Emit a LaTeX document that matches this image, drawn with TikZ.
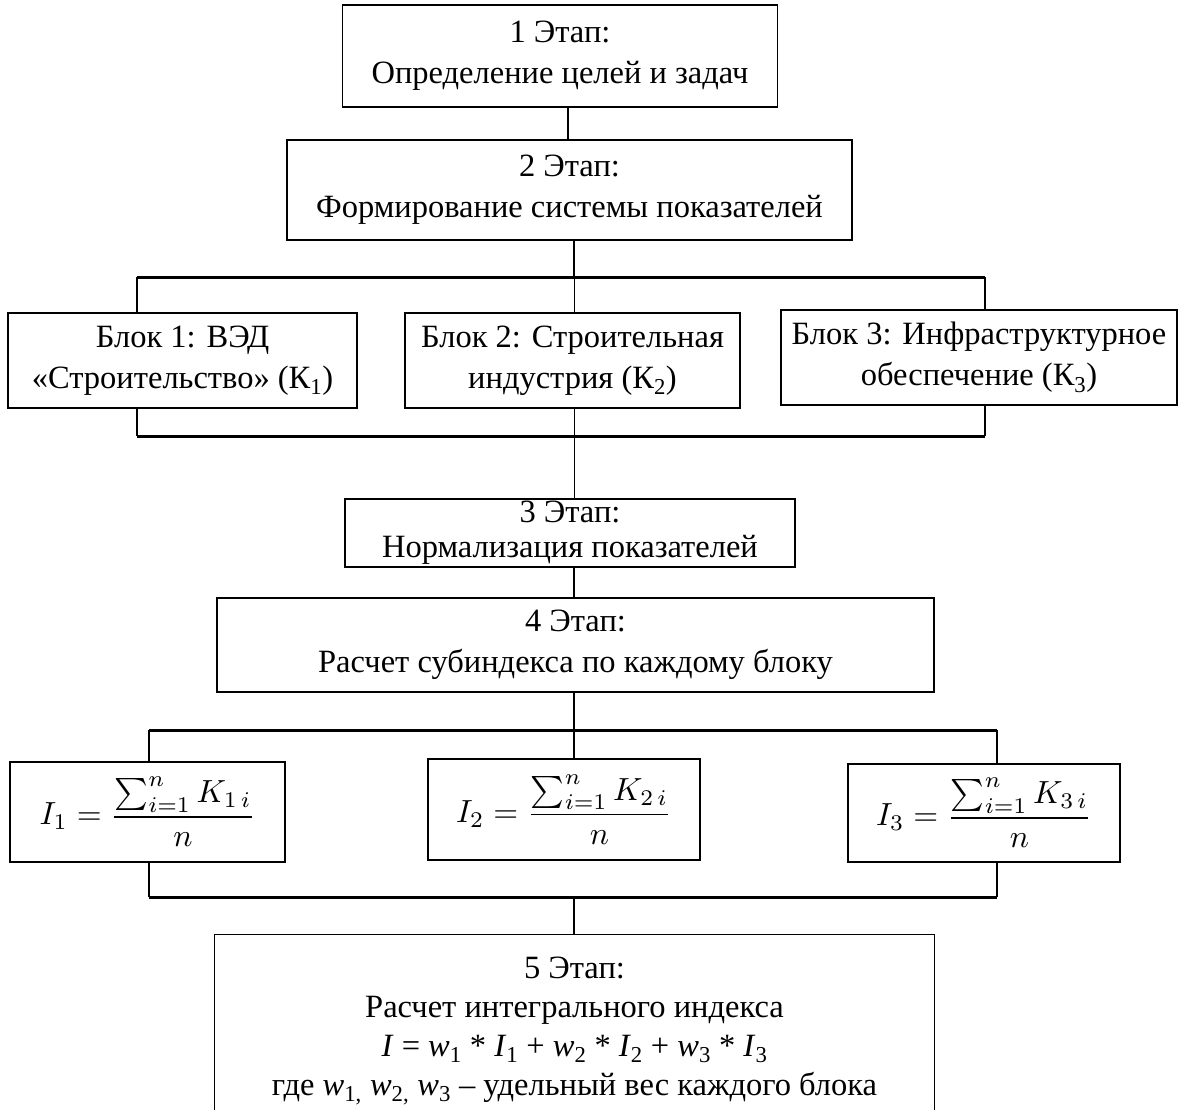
\documentclass[tikz,border=0pt]{standalone}
\usepackage{graphicx}
\usepackage{amsmath}
\usepackage{fontspec}
\setmainfont{Liberation Serif}
\newcommand{\bigformula}[1]{\scalebox{3.2}{\fontsize{10}{12}\selectfont$\displaystyle #1$}}
\begin{document}
\begin{tikzpicture}[x=1pt,y=-1pt,
  box/.style={draw,line width=1.3pt,align=center,inner sep=0pt,font=\fontsize{32.5}{41}\selectfont},
  fbox/.style={box},
  conn/.style={line width=2pt},
  thinconn/.style={line width=1pt},
  bus/.style={line width=3pt}]
\useasboundingbox (0,0) rectangle (1181,1109);
\node[box,minimum width=435,minimum height=102] (s1) at (560,56) {1 Этап:\\Определение целей и задач};
\node[box,minimum width=565,minimum height=100] (s2) at (569.5,190) {2 Этап:\\Формирование системы показателей};
\node[box,minimum width=349,minimum height=95] (b1) at (182.5,360.5) {Блок 1: ВЭД\\«Строительство» (К\textsubscript{1})};
\node[box,minimum width=335,minimum height=95] (b2) at (572.5,360.5) {Блок 2: Строительная\\индустрия (К\textsubscript{2})};
\node[box,minimum width=396,minimum height=95] (b3) at (979,357.5) {Блок 3: Инфраструктурное\\обеспечение (К\textsubscript{3})};
\node[box,font=\fontsize{32.5}{35}\selectfont,minimum width=450,minimum height=68] (s3) at (570,533) {3 Этап:\\Нормализация показателей};
\node[box,minimum width=717,minimum height=94] (s4) at (575.5,645) {4 Этап:\\Расчет субиндекса по каждому блоку};
\node[fbox,minimum width=275,minimum height=100] (f1) at (147.5,812) {\bigformula{I_1=\frac{\textstyle\sum_{i=1}^{n}K_{1\,i}}{n}}};
\node[fbox,minimum width=272,minimum height=101] (f2) at (564,809.5) {\bigformula{I_2=\frac{\textstyle\sum_{i=1}^{n}K_{2\,i}}{n}}};
\node[fbox,minimum width=272,minimum height=98] (f3) at (984,813) {\bigformula{I_3=\frac{\textstyle\sum_{i=1}^{n}K_{3\,i}}{n}}};
\node[box,font=\fontsize{32.5}{39}\selectfont,draw=none,minimum width=719,minimum height=192] (s5) at (574.5,1031) {5 Этап:\\Расчет интегрального индекса\\\textit{I} = \textit{w}\textsubscript{1} * \textit{I}\textsubscript{1} + \textit{w}\textsubscript{2} * \textit{I}\textsubscript{2} + \textit{w}\textsubscript{3} * \textit{I}\textsubscript{3}\\где \textit{w}\textsubscript{1,} \textit{w}\textsubscript{2,} \textit{w}\textsubscript{3} – удельный вес каждого блока};
\draw[line width=1.3pt] (s5.south west) -- (s5.north west) -- (s5.north east) -- (s5.south east);
% bus coordinates
\coordinate (a1) at (137,277); \coordinate (a2) at (574,277); \coordinate (a3) at (985,277);
\coordinate (c1) at (137,436); \coordinate (c2) at (574,436); \coordinate (c3) at (985,436);
\coordinate (d1) at (149,730); \coordinate (d2) at (574,730); \coordinate (d3) at (997,730);
\coordinate (e1) at (149,897); \coordinate (e2) at (574,897); \coordinate (e3) at (997,897);
\draw[conn] (s1.south -| 568,0) -- (s2.north -| 568,0);
\draw[conn] (s2.south -| a2) -- (a2);
\draw[bus] (a1) -- (a3);
\draw[conn] (a1) -- (a1 |- b1.north);
\draw[thinconn] (a2) -- (a2 |- b2.north);
\draw[conn] (a3) -- (a3 |- b3.north);
\draw[conn] (c1 |- b1.south) -- (c1);
\draw[conn] (c3 |- b3.south) -- (c3);
\draw[bus] (c1) -- (c3);
\draw[thinconn] (c2 |- b2.south) -- (c2 |- s3.north);
\draw[conn] (s3.south -| d2) -- (s4.north -| d2);
\draw[conn] (s4.south -| d2) -- (d2);
\draw[bus] (d1) -- (d3);
\draw[conn] (d1) -- (d1 |- f1.north);
\draw[conn] (d2) -- (d2 |- f2.north);
\draw[conn] (d3) -- (d3 |- f3.north);
\draw[conn] (e1 |- f1.south) -- (e1);
\draw[conn] (e3 |- f3.south) -- (e3);
\draw[bus] (e1) -- (e3);
\draw[conn] (e2) -- (e2 |- s5.north);
\end{tikzpicture}
\end{document}
